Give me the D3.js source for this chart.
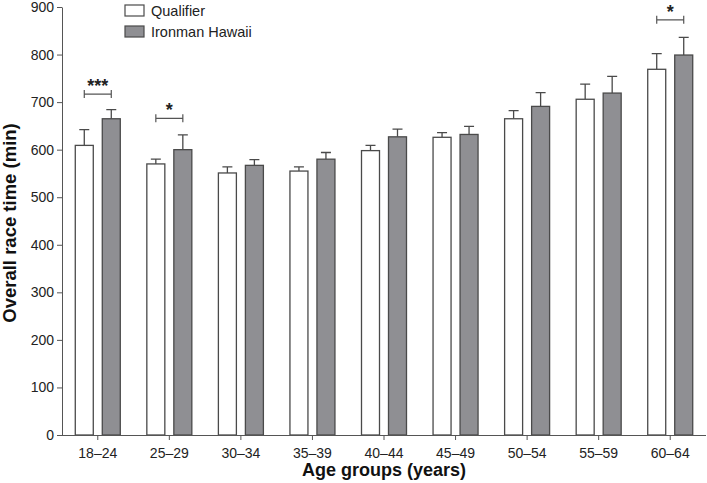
<!DOCTYPE html>
<html lang="en">
<head>
  <meta charset="UTF-8">
  <title>Overall race time by age group</title>
  <script src="https://d3js.org/d3.v7.min.js"></script>
  <style>
    body { margin: 0; background: #fff; }
    text { font-family: "Liberation Sans", Arial, sans-serif; }
  </style>
</head>
<body>
  <div id="chart"></div>

  <script>
    const ageGroups = ["18–24", "25–29", "30–34", "35–39", "40–44", "45–49", "50–54", "55–59", "60–64"];
    const qualifier = [609, 570, 551, 555, 598, 626, 665, 706, 769];
    const qualifierErr = [33, 10, 13, 9, 11, 10, 17, 32, 33];
    const hawaii = [665, 600, 567, 580, 627, 632, 691, 719, 799];
    const hawaiiErr = [19, 31, 12, 14, 16, 17, 29, 35, 37];
    // significance brackets: group index, height (min), label
    const sigGroups = [0, 1, 8];
    const sigLevels = [717, 666, 873];
    const sigLabels = ["***", "*", "*"];
    const yTicks = [0, 100, 200, 300, 400, 500, 600, 700, 800, 900];

    const width = 707;
    const height = 483;
    const margin = { top: 7, right: 1, bottom: 48, left: 62 };
    const innerW = width - margin.left - margin.right;
    const innerH = height - margin.top - margin.bottom;

    const svg = d3.select("#chart")
      .append("svg")
      .attr("width", width)
      .attr("height", height)
      .append("g")
      .attr("transform", `translate(${margin.left},${margin.top})`);

    const x = d3.scaleBand()
      .domain(ageGroups)
      .range([0, 644])
      .padding(0);

    const y = d3.scaleLinear()
      .domain([0, 900])
      .range([innerH, 0]);

    const barW = 18;
    const gap = 9;
    const stroke = "#4a4a4a";

    const data = ageGroups.map((g, i) => ({
      group: g, q: qualifier[i], qe: qualifierErr[i], h: hawaii[i], he: hawaiiErr[i]
    }));

    const center = g => x(g) + x.bandwidth() / 2;
    const qX = g => center(g) - gap / 2 - barW;
    const hX = g => center(g) + gap / 2;

    // error bars (upper only)
    function errBars(xFn, val, err) {
      svg.selectAll(null)
        .data(data)
        .enter().append("path")
        .attr("d", d => {
          const cx = xFn(d.group) + barW / 2;
          const top = y(val(d) + err(d));
          return `M${cx},${y(val(d))}V${top}M${cx - 5},${top}H${cx + 5}`;
        })
        .attr("stroke", stroke)
        .attr("stroke-width", 1.3)
        .attr("fill", "none");
    }
    errBars(qX, d => d.q, d => d.qe);
    errBars(hX, d => d.h, d => d.he);

    svg.selectAll(".qbar")
      .data(data)
      .enter().append("rect")
      .attr("class", "qbar")
      .attr("x", d => qX(d.group))
      .attr("y", d => y(d.q))
      .attr("width", barW)
      .attr("height", d => innerH - y(d.q))
      .attr("fill", "#fff")
      .attr("stroke", stroke)
      .attr("stroke-width", 1.3);

    svg.selectAll(".hbar")
      .data(data)
      .enter().append("rect")
      .attr("class", "hbar")
      .attr("x", d => hX(d.group))
      .attr("y", d => y(d.h))
      .attr("width", barW)
      .attr("height", d => innerH - y(d.h))
      .attr("fill", "#8f8f93")
      .attr("stroke", stroke)
      .attr("stroke-width", 1.3);

    // significance brackets
    sigGroups.forEach((gi, i) => {
      const g = ageGroups[gi];
      const x1 = qX(g) + barW / 2;
      const x2 = hX(g) + barW / 2;
      const yy = y(sigLevels[i]);
      svg.append("path")
        .attr("d", `M${x1},${yy - 4}V${yy + 4}M${x1},${yy}H${x2}M${x2},${yy - 4}V${yy + 4}`)
        .attr("stroke", "#555")
        .attr("stroke-width", 1.2)
        .attr("fill", "none");
      svg.append("text")
        .attr("x", (x1 + x2) / 2)
        .attr("y", yy - 2)
        .attr("text-anchor", "middle")
        .style("font-size", "18px")
        .style("font-weight", "bold")
        .attr("fill", "#222")
        .text(sigLabels[i]);
    });

    // axes
    const yAxis = svg.append("g")
      .call(d3.axisLeft(y).tickValues(yTicks).tickSize(5).tickSizeOuter(0));
    yAxis.selectAll("text").style("font-size", "14px").attr("fill", "#222");
    yAxis.selectAll("line, path").attr("stroke", "#555");

    const xAxis = svg.append("g")
      .attr("transform", `translate(0,${innerH})`)
      .call(d3.axisBottom(x).tickSize(5).tickSizeOuter(0));
    xAxis.select(".domain").attr("d", `M-5,0.5H644`);
    xAxis.selectAll("text").style("font-size", "14px").attr("fill", "#222").attr("dy", "1.05em");
    xAxis.selectAll("line, path").attr("stroke", "#555");

    svg.append("text")
      .attr("transform", "rotate(-90)")
      .attr("x", -(223 - margin.top))
      .attr("y", -margin.left + 16)
      .attr("text-anchor", "middle")
      .style("font-size", "18.5px")
      .style("font-weight", "bold")
      .attr("fill", "#111")
      .text("Overall race time (min)");

    svg.append("text")
      .attr("x", 322)
      .attr("y", innerH + 41)
      .attr("text-anchor", "middle")
      .style("font-size", "18px")
      .style("font-weight", "bold")
      .attr("fill", "#111")
      .text("Age groups (years)");

    // legend
    const legendItems = [["Qualifier", "#fff"], ["Ironman Hawaii", "#8f8f93"]];
    const legend = svg.append("g").attr("transform", "translate(63,-2)");
    legendItems.forEach(([name, fill], i) => {
      legend.append("rect")
        .attr("x", 0)
        .attr("y", i * 21)
        .attr("width", 19)
        .attr("height", 11)
        .attr("fill", fill)
        .attr("stroke", stroke)
        .attr("stroke-width", 1.2);
      legend.append("text")
        .attr("x", 26)
        .attr("y", i * 21 + 11)
        .style("font-size", "14.5px")
        .attr("fill", "#222")
        .text(name);
    });
  </script>
</body>
</html>
